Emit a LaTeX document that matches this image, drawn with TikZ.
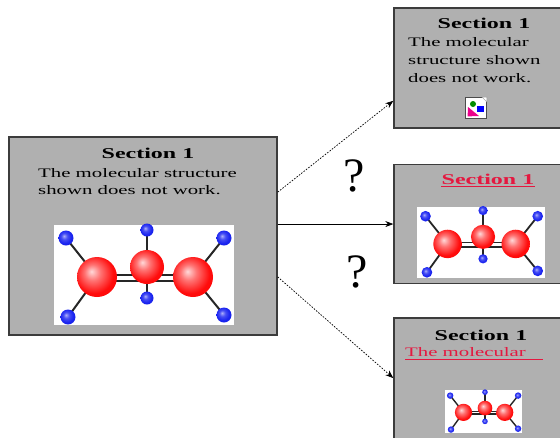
\documentclass[tikz,border=0pt]{standalone}
\usepackage{fontspec}
\setmainfont{Liberation Serif}
\newfontfamily\wideserif[FakeStretch=1.6]{Liberation Serif}
\usetikzlibrary{arrows.meta,calc}
\definecolor{panelgray}{RGB}{176,176,176}
\definecolor{panelline}{RGB}{60,60,60}
\definecolor{linkred}{RGB}{228,24,64}
\definecolor{atomblue}{RGB}{25,35,240}
\pgfdeclareradialshading{redatom}{\pgfpoint{-7bp}{7bp}}{%
  color(0bp)=(red!15!white); color(10bp)=(red!55!white); color(24bp)=(red!95!white);
  color(40bp)=(red); color(50bp)=(red!85!black)}
\pgfdeclareradialshading{blueatom}{\pgfpoint{-7bp}{7bp}}{%
  color(0bp)=(atomblue!35!white); color(10bp)=(atomblue!80!white); color(22bp)=(atomblue);
  color(50bp)=(atomblue!85!black)}
\tikzset{
  panel/.style={draw=panelline, line width=1.4pt, fill=panelgray, inner sep=0pt},
  headline/.style={font=\wideserif\bfseries\fontsize{15}{16}\selectfont, inner sep=0pt, anchor=base},
  bodytext/.style={font=\wideserif\fontsize{13}{14}\selectfont, inner sep=0pt, anchor=base west},
  linkhead/.style={headline, text=linkred},
  qmark/.style={font=\fontsize{48}{48}\selectfont, inner sep=0pt},
  flow/.style={-{Stealth[length=8pt,width=6pt]}, line width=0.7pt},
  maybeflow/.style={flow, dash pattern=on 1.6pt off 1.4pt},
  bond/.style={line width=2pt, black!85},
  molecule/.pic={
    \fill[white] (0,0) rectangle (180,100);
    \begin{scope}[bond]
      \draw (43,52) -- (12,13);  \draw (43,52) -- (14,92);
      \draw (93,42) -- (93,5);   \draw (93,42) -- (93,73);
      \draw (139,52) -- (170,13); \draw (139,52) -- (170,90);
      \draw (43,50) -- (139,50); \draw (43,56) -- (139,56);
    \end{scope}
    \foreach \p/\r in {{(12,13)}/7.5,{(93,5)}/6.5,{(170,13)}/7.5,{(14,92)}/7.5,{(93,73)}/6.5,{(170,90)}/7.5}
      \shade[shading=blueatom] \p circle (\r);
    \shade[shading=redatom] (43,52) circle (20);
    \shade[shading=redatom] (139,52) circle (20);
    \shade[shading=redatom] (93,42) circle (17);
  }
}
\begin{document}
\begin{tikzpicture}[x=1pt,y=-1pt]
  \clip (0,0) rectangle (560,437);
  \fill[white] (0,0) rectangle (560,437);

  % panels
  \node[panel, minimum width=268pt, minimum height=198pt] (L) at (143,236) {};
  \node[panel, minimum width=185pt, minimum height=120pt] (T) at (486.5,68) {};
  \node[panel, minimum width=185pt, minimum height=119pt] (M) at (486.5,224) {};
  \node[panel, minimum width=185pt, minimum height=140pt] (B) at (486.5,388) {};

  % source panel contents
  \node[headline] (Lh) at (148,158) {Section 1};
  \node[bodytext] (Lt1) at (38,177) {The molecular structure};
  \node[bodytext] (Lt2) at (38,194) {shown does not work.};
  \pic at (54,225) {molecule};

  % upper target: text and a missing-image icon
  \node[headline] (Th) at (484,28) {Section 1};
  \node[bodytext] (Tt1) at (408,46) {The molecular};
  \node[bodytext] (Tt2) at (408,64) {structure shown};
  \node[bodytext] (Tt3) at (408,82) {does not work.};
  \node[draw=black!70, line width=0.8pt, fill=white, minimum size=21pt, inner sep=0pt] (Ti) at (476,108) {};
  \fill[green!55!black] ($(Ti.center)+(-3,-4)$) circle (3);
  \fill[magenta] ($(Ti.south west)+(2.5,-2.5)$) -- ($(Ti.center)+(3,8)$) -- ($(Ti.center)+(-8,-1)$) -- cycle;
  \fill[blue] ($(Ti.center)+(1,-2)$) rectangle ($(Ti.center)+(8,4)$);
  \fill[white, draw=black!40] ($(Ti.north east)+(-5,0)$) -- (Ti.north east) -- ($(Ti.north east)+(0,5)$) -- cycle;

  % middle target
  \node[linkhead] (Mh) at (488,184) {Section 1};
  \draw[linkred, line width=0.8pt] ($(Mh.base west)+(0,2.5)$) -- ($(Mh.base east)+(0,2.5)$);
  \pic[scale=0.71, bond/.style={line width=1.8pt, black!85}] at (417,207) {molecule};

  % lower target
  \node[headline] (Bh) at (481,340) {Section 1};
  \node[bodytext, text=linkred] (Bt) at (405,356) {The molecular};
  \draw[linkred, line width=0.8pt] ($(Bt.base west)+(0,3.5)$) -- ++(138,0);
  \pic[scale=0.43, bond/.style={line width=1.4pt, black!85}] at (445,390) {molecule};

  % connectors
  \coordinate (s1) at ($(L.north east)!0.28!(L.south east)$);
  \coordinate (s2) at ($(L.north east)!0.44!(L.south east)$);
  \coordinate (s3) at ($(L.north east)!0.705!(L.south east)$);
  \coordinate (e1) at ($(T.north west)!0.77!(T.south west)$);
  \coordinate (e3) at ($(B.north west)!0.43!(B.south west)$);
  \draw[maybeflow] (s1) -- (e1);
  \draw[flow] (s2) -- (s2 -| M.west);
  \draw[maybeflow] (s3) -- (e3);

  \node[qmark] (q1) at (354,176) {?};
  \node[qmark] (q2) at (357,272) {?};
\end{tikzpicture}
\end{document}
